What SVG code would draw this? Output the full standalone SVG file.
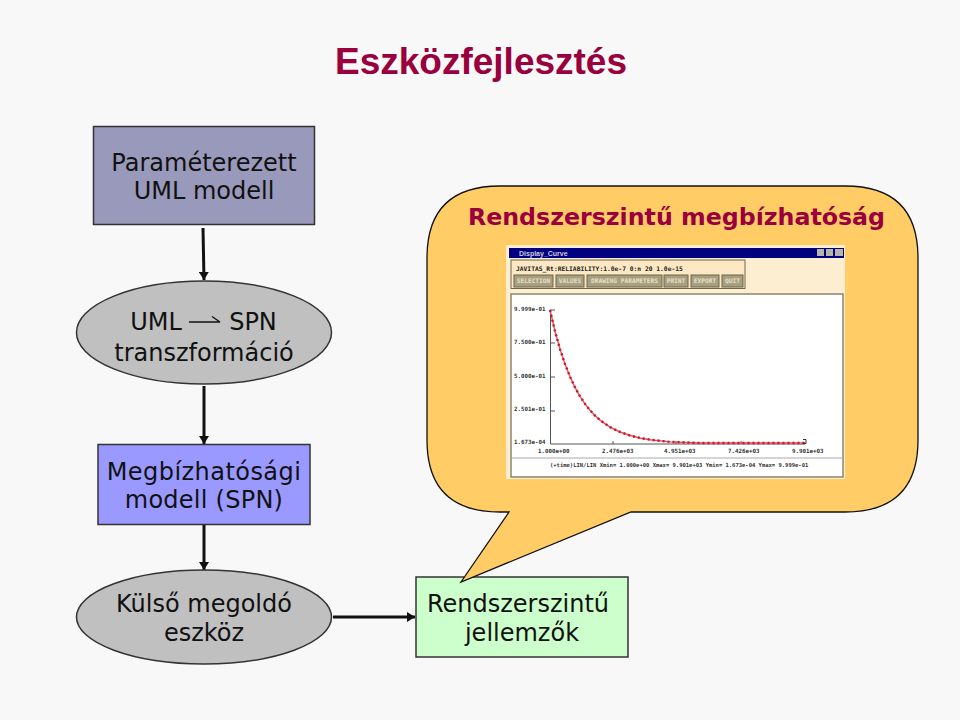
<svg xmlns="http://www.w3.org/2000/svg" width="960" height="720" viewBox="0 0 960 720">
<style>
.t{font-family:"DejaVu Sans",Verdana,sans-serif;font-size:24px;fill:#111;text-anchor:middle}
.s{font-family:"DejaVu Sans Mono","Liberation Mono",monospace;font-weight:bold;font-size:6.3px;fill:#222}
.l{font-family:"DejaVu Sans Mono","Liberation Mono",monospace;font-size:5.8px;font-weight:bold;fill:#333}
.b{fill:#a89f80;stroke:#6b6650;stroke-width:1}
.bt{font-family:"DejaVu Sans Mono","Liberation Mono",monospace;font-weight:bold;font-size:6.2px;fill:#e8e0c8;text-anchor:middle}
.c{fill:none;stroke:#111;stroke-width:3}
.n{stroke:#333;stroke-width:1.5}
</style>
<defs>
<marker id="a" markerUnits="userSpaceOnUse" markerWidth="9" markerHeight="10" refX="8" refY="5" orient="auto"><path d="M0 0L8 5L0 10z" fill="#111"/></marker>
</defs>
<rect width="960" height="720" fill="#f8f8f8"/>
<text x="481" y="74" font-family="Liberation Sans,Arial,sans-serif" font-weight="bold" font-size="37" fill="#99003d" text-anchor="middle">Eszközfejlesztés</text>
<g id="connectors">
<path class="c" d="M203 228L204 280" marker-end="url(#a)"/>
<path class="c" d="M204 386V444" marker-end="url(#a)"/>
<path class="c" d="M204 525V570" marker-end="url(#a)"/>
<path class="c" d="M333 617H415" marker-end="url(#a)"/>
</g>
<g id="n1"><rect x="93.500" y="126.500" width="221" height="98" fill="#9999bb" class="n"/><text class="t" x="204" y="171">Paraméterezett</text><text class="t" x="204" y="199">UML modell</text></g>
<g id="n2"><ellipse cx="204" cy="332.500" rx="127.500" ry="51.500" fill="#c0c0c0" class="n"/><text class="t" x="156" y="330">UML</text><text class="t" x="253" y="330">SPN</text><path d="M189 322H220M212 316.500L220 322" fill="none" stroke="#111" stroke-width="1.300"/><text class="t" x="204" y="361">transzformáció</text></g>
<g id="n3"><rect x="98" y="444.500" width="212" height="80" fill="#9999ff" class="n"/><text class="t" x="204" y="480" letter-spacing=".45">Megbízhatósági</text><text class="t" x="204" y="508" letter-spacing=".25">modell (SPN)</text></g>
<g id="n4"><ellipse cx="204" cy="617" rx="127.500" ry="47" fill="#c0c0c0" class="n"/><text class="t" x="204" y="612">Külső megoldó</text><text class="t" x="204" y="641">eszköz</text></g>
<g id="n5"><rect x="416" y="577" width="212" height="80" fill="#ccffcc" class="n"/><text class="t" x="518" y="612">Rendszerszintű</text><text class="t" x="522" y="641">jellemzők</text></g>
<g id="callout">
<path d="M500 186H845Q918 186 918 258V440Q918 512 845 512H631L461 582L509 512H500Q427 512 427 440V258Q427 186 500 186Z" fill="#ffcc66" stroke="#111" stroke-width="1.300"/>
<text x="676.500" y="225" font-family="DejaVu Sans,Verdana,sans-serif" font-weight="bold" font-size="23.700" fill="#99003d" text-anchor="middle">Rendszerszintű megbízhatóság</text>
</g>
<g id="screenshot">
<rect x="506" y="245" width="339" height="234" fill="#fdeed2"/>
<rect x="509" y="248" width="335" height="10" fill="#000080"/>
<text x="519" y="255.500" font-family="Liberation Sans,sans-serif" font-weight="bold" font-size="7" fill="#ccd">Display_Curve</text>
<rect x="817" y="249" width="7" height="7" fill="#b8b4a8"/><rect x="826" y="249" width="7" height="7" fill="#b8b4a8"/><rect x="835" y="249" width="8" height="7" fill="#b8b4a8"/>
<rect x="511" y="260" width="234" height="28.500" fill="#fde8c4" stroke="#6b6650"/>
<text x="516" y="270.500" class="s">JAVITAS_Rt:RELIABILITY:1.0e-7 0:n 20 1.0e-15</text>
<rect x="514" y="275" width="39" height="12" class="b"/><text x="533.500" y="283" class="bt">SELECTION</text>
<rect x="556" y="275" width="28" height="12" class="b"/><text x="570" y="283" class="bt">VALUES</text>
<rect x="587" y="275" width="75" height="12" class="b"/><text x="624.500" y="283" class="bt">DRAWING PARAMETERS</text>
<rect x="664" y="275" width="24" height="12" class="b"/><text x="676" y="283" class="bt">PRINT</text>
<rect x="691" y="275" width="28" height="12" class="b"/><text x="705" y="283" class="bt">EXPORT</text>
<rect x="722" y="275" width="21" height="12" class="b"/><text x="732.500" y="283" class="bt">QUIT</text>
<rect x="511" y="294" width="332" height="183" fill="#fff" stroke="#8a8570" stroke-width="1.500"/>
<path d="M511 458H843" stroke="#aaa" fill="none"/>
<path d="M550.500 310V444H805M550 310H555M550 343H555M550 377H555M550 411H555M613 441V444M676 441V444M741 441V444" fill="none" stroke="#555"/>
<g fill="none">
<path d="M550 310L555 331.200L560 349.100L565 364.100L570 376.700L575 387.400L580 396.400L585 403.900L590 410.200L595 415.600L600 420.100L610 427.100L620 432L630 435.500L640 438L650 439.700L670 441.900L700 443H805" stroke="#e8505f" stroke-width="1.400"/>
<path d="M550 310L555 331.200L560 349.100L565 364.100L570 376.700L575 387.400L580 396.400L585 403.900L590 410.200L595 415.600L600 420.100L610 427.100L620 432L630 435.500L640 438L650 439.700L670 441.900L700 443H805" stroke="#cc1525" stroke-width="2.400" stroke-dasharray="2 3"/>
</g>
<path d="M803 439.500H806V443.500H803" fill="none" stroke="#333"/>
<g class="l">
<text x="514" y="310.500">9.999e-01</text><text x="514" y="344">7.500e-01</text><text x="514" y="377.500">5.000e-01</text><text x="514" y="411">2.501e-01</text><text x="514" y="444">1.673e-04</text>
<text x="538" y="453">1.000e+00</text><text x="602" y="453">2.476e+03</text><text x="664" y="453">4.951e+03</text><text x="728" y="453">7.426e+03</text><text x="792" y="453">9.901e+03</text>
<text x="550" y="466.500" style="font-size:5.500px">(+time)LIN/LIN Xmin= 1.000e+00 Xmax= 9.901e+03 Ymin= 1.673e-04 Ymax= 9.999e-01</text>
</g>
</g>
</svg>
